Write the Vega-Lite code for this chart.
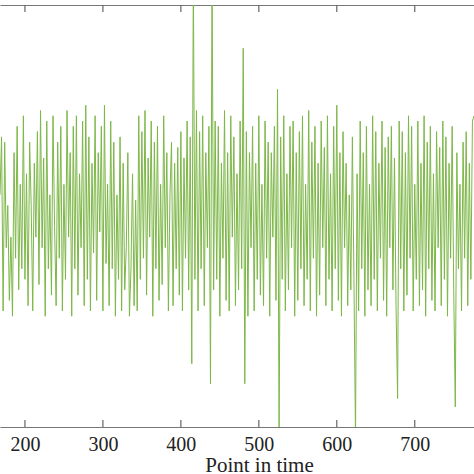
{
  "$schema": "https://vega.github.io/schema/vega-lite/v6.json",
  "width": 474,
  "height": 422,
  "padding": {"top": 4, "left": 0, "right": 0, "bottom": 0},
  "background": "white",
  "config": {"view": {"stroke": null}},
  "datasets": {
    "ticks": [{"t":200},{"t":300},{"t":400},{"t":500},{"t":600},{"t":700}],
    "series": [
    {"t":168,"v":0.2},{"t":170,"v":0.75},{"t":172,"v":-0.9},{"t":174,"v":0.7},{"t":176,"v":-0.3},{"t":178,"v":0.1},{"t":180,"v":-0.8},{"t":182,"v":-0.2},{"t":184,"v":-0.95},{"t":186,"v":0.6},
    {"t":188,"v":-0.4},{"t":190,"v":0.85},{"t":192,"v":-0.7},{"t":194,"v":0.3},{"t":196,"v":-0.5},{"t":198,"v":0.95},{"t":200,"v":-0.6},{"t":202,"v":0.4},{"t":204,"v":-0.85},{"t":206,"v":0.7},
    {"t":208,"v":0.1},{"t":210,"v":-0.9},{"t":212,"v":0.5},{"t":214,"v":-0.2},{"t":216,"v":0.8},{"t":218,"v":-0.65},{"t":220,"v":1.0},{"t":222,"v":-0.3},{"t":224,"v":0.55},{"t":226,"v":-0.95},
    {"t":228,"v":0.9},{"t":230,"v":-0.5},{"t":232,"v":0.2},{"t":234,"v":-0.75},{"t":236,"v":0.95},{"t":238,"v":-0.1},{"t":240,"v":-0.85},{"t":242,"v":0.7},{"t":244,"v":-0.4},{"t":246,"v":0.85},
    {"t":248,"v":-0.9},{"t":250,"v":0.3},{"t":252,"v":-0.6},{"t":254,"v":1.0},{"t":256,"v":-0.2},{"t":258,"v":0.6},{"t":260,"v":-0.95},{"t":262,"v":0.85},{"t":264,"v":-0.5},{"t":266,"v":0.95},
    {"t":268,"v":-0.75},{"t":270,"v":0.4},{"t":272,"v":-0.3},{"t":274,"v":0.9},{"t":276,"v":-0.85},{"t":278,"v":1.05},{"t":280,"v":-0.6},{"t":282,"v":0.75},{"t":284,"v":-0.9},{"t":286,"v":0.5},
    {"t":288,"v":-0.35},{"t":290,"v":0.95},{"t":292,"v":-0.8},{"t":294,"v":0.6},{"t":296,"v":-0.15},{"t":298,"v":0.85},{"t":300,"v":-0.9},{"t":302,"v":1.05},{"t":304,"v":-0.45},{"t":306,"v":0.3},
    {"t":308,"v":-0.85},{"t":310,"v":0.9},{"t":312,"v":-0.5},{"t":314,"v":0.7},{"t":316,"v":-0.95},{"t":318,"v":0.2},{"t":320,"v":-0.6},{"t":322,"v":0.75},{"t":324,"v":-0.9},{"t":326,"v":0.5},
    {"t":328,"v":-0.7},{"t":330,"v":-0.3},{"t":332,"v":0.6},{"t":334,"v":-0.95},{"t":336,"v":-0.5},{"t":338,"v":0.4},{"t":340,"v":-0.85},{"t":342,"v":0.15},{"t":344,"v":-0.9},{"t":346,"v":0.95},
    {"t":348,"v":-0.6},{"t":350,"v":0.8},{"t":352,"v":-0.4},{"t":354,"v":1.0},{"t":356,"v":-0.75},{"t":358,"v":0.55},{"t":360,"v":-0.2},{"t":362,"v":0.9},{"t":364,"v":-0.95},{"t":366,"v":0.7},
    {"t":368,"v":-0.5},{"t":370,"v":0.85},{"t":372,"v":-0.8},{"t":374,"v":0.3},{"t":376,"v":-0.65},{"t":378,"v":0.95},{"t":380,"v":-0.3},{"t":382,"v":0.6},{"t":384,"v":-0.9},{"t":386,"v":0.2},
    {"t":388,"v":0.7},{"t":390,"v":-0.85},{"t":392,"v":0.5},{"t":394,"v":-0.5},{"t":396,"v":0.65},{"t":398,"v":-0.75},{"t":400,"v":0.8},{"t":402,"v":-0.9},{"t":404,"v":0.55},{"t":406,"v":-0.4},
    {"t":408,"v":0.9},{"t":410,"v":-0.7},{"t":412,"v":0.75},{"t":414,"v":-1.4},{"t":416,"v":2.3},{"t":418,"v":-0.6},{"t":420,"v":1.0},{"t":422,"v":-0.9},{"t":424,"v":0.8},{"t":426,"v":-0.5},
    {"t":428,"v":0.95},{"t":430,"v":-0.85},{"t":432,"v":0.6},{"t":434,"v":-0.3},{"t":436,"v":0.85},{"t":438,"v":-1.59},{"t":440,"v":2.3},{"t":442,"v":-0.7},{"t":444,"v":0.9},{"t":446,"v":-0.6},
    {"t":448,"v":0.85},{"t":450,"v":-0.95},{"t":452,"v":0.5},{"t":454,"v":-0.4},{"t":456,"v":1.0},{"t":458,"v":-0.8},{"t":460,"v":0.6},{"t":462,"v":-0.9},{"t":464,"v":0.95},{"t":466,"v":-0.2},
    {"t":468,"v":0.75},{"t":470,"v":-0.85},{"t":472,"v":0.4},{"t":474,"v":-0.7},{"t":476,"v":0.9},{"t":478,"v":-0.5},{"t":480,"v":1.59},{"t":482,"v":-1.59},{"t":484,"v":0.8},{"t":486,"v":-0.95},
    {"t":488,"v":0.6},{"t":490,"v":-0.3},{"t":492,"v":0.85},{"t":494,"v":-0.9},{"t":496,"v":0.5},{"t":498,"v":-0.6},{"t":500,"v":0.95},{"t":502,"v":-0.75},{"t":504,"v":0.3},{"t":506,"v":-0.85},
    {"t":508,"v":0.9},{"t":510,"v":-0.4},{"t":512,"v":0.7},{"t":514,"v":-0.95},{"t":516,"v":0.6},{"t":518,"v":-0.2},{"t":520,"v":0.85},{"t":522,"v":-0.8},{"t":524,"v":1.2},{"t":526,"v":-2.1},
    {"t":528,"v":0.75},{"t":530,"v":-0.6},{"t":532,"v":0.95},{"t":534,"v":-0.9},{"t":536,"v":0.4},{"t":538,"v":-0.7},{"t":540,"v":0.85},{"t":542,"v":-0.3},{"t":544,"v":0.9},{"t":546,"v":-0.95},
    {"t":548,"v":0.6},{"t":550,"v":-0.8},{"t":552,"v":0.8},{"t":554,"v":-0.5},{"t":556,"v":0.95},{"t":558,"v":-0.85},{"t":560,"v":0.3},{"t":562,"v":-0.6},{"t":564,"v":1.0},{"t":566,"v":-0.9},
    {"t":568,"v":0.7},{"t":570,"v":-0.4},{"t":572,"v":0.85},{"t":574,"v":-0.95},{"t":576,"v":0.5},{"t":578,"v":-0.75},{"t":580,"v":0.9},{"t":582,"v":-0.3},{"t":584,"v":0.65},{"t":586,"v":-0.85},
    {"t":588,"v":0.95},{"t":590,"v":-0.6},{"t":592,"v":0.4},{"t":594,"v":-0.9},{"t":596,"v":0.85},{"t":598,"v":-0.5},{"t":600,"v":1.05},{"t":602,"v":-0.8},{"t":604,"v":0.6},{"t":606,"v":-0.95},
    {"t":608,"v":0.8},{"t":610,"v":-0.3},{"t":612,"v":0.5},{"t":614,"v":-0.85},{"t":616,"v":0.2},{"t":618,"v":-0.7},{"t":620,"v":0.75},{"t":622,"v":-0.6},{"t":624,"v":-2.1},{"t":626,"v":0.4},
    {"t":628,"v":-0.9},{"t":630,"v":0.9},{"t":632,"v":-0.5},{"t":634,"v":0.6},{"t":636,"v":-0.95},{"t":638,"v":0.85},{"t":640,"v":-0.7},{"t":642,"v":0.3},{"t":644,"v":-0.85},{"t":646,"v":0.95},
    {"t":648,"v":-0.6},{"t":650,"v":0.8},{"t":652,"v":-0.9},{"t":654,"v":0.5},{"t":656,"v":-0.4},{"t":658,"v":0.9},{"t":660,"v":-0.8},{"t":662,"v":0.65},{"t":664,"v":-0.95},{"t":666,"v":0.75},
    {"t":668,"v":-0.3},{"t":670,"v":0.85},{"t":672,"v":-0.7},{"t":674,"v":0.55},{"t":676,"v":-0.85},{"t":678,"v":-1.73},{"t":680,"v":0.9},{"t":682,"v":-0.5},{"t":684,"v":0.8},{"t":686,"v":-0.9},
    {"t":688,"v":0.6},{"t":690,"v":-0.75},{"t":692,"v":0.95},{"t":694,"v":-0.4},{"t":696,"v":0.85},{"t":698,"v":-0.9},{"t":700,"v":0.3},{"t":702,"v":-0.6},{"t":704,"v":0.9},{"t":706,"v":-0.85},
    {"t":708,"v":0.5},{"t":710,"v":-0.7},{"t":712,"v":0.95},{"t":714,"v":-0.95},{"t":716,"v":0.7},{"t":718,"v":-0.5},{"t":720,"v":0.85},{"t":722,"v":-0.8},{"t":724,"v":0.4},{"t":726,"v":-0.9},
    {"t":728,"v":0.8},{"t":730,"v":-0.3},{"t":732,"v":0.65},{"t":734,"v":-0.85},{"t":736,"v":0.9},{"t":738,"v":-0.6},{"t":740,"v":0.75},{"t":742,"v":-0.95},{"t":744,"v":0.5},{"t":746,"v":-0.4},
    {"t":748,"v":0.85},{"t":750,"v":-0.7},{"t":752,"v":-1.81},{"t":754,"v":0.6},{"t":756,"v":-0.5},{"t":758,"v":0.3},{"t":760,"v":-0.9},{"t":762,"v":0.7},{"t":764,"v":-0.4},{"t":766,"v":0.8},
    {"t":768,"v":-0.85},{"t":770,"v":0.5},{"t":772,"v":-0.6},{"t":774,"v":0.9},{"t":776,"v":0.95}
  ]},
  "layer": [
    {
      "data": {"name": "series"},
      "mark": {"type": "line", "color": "#7db748", "strokeWidth": 1, "clip": true},
      "encoding": {
        "x": {"field": "t", "type": "quantitative",
          "scale": {"domain": [168, 776], "nice": false, "zero": false},
          "axis": {"orient": "bottom", "values": [200, 300, 400, 500, 600, 700], "grid": false, "ticks": false,
            "title": "Point in time", "titleFont": "Liberation Serif", "titleFontSize": 21, "titleFontWeight": "normal", "titleColor": "#222",
            "titleX": 259, "titleY": 44, "titleBaseline": "alphabetic",
            "labelFont": "Liberation Serif", "labelFontSize": 20, "labelColor": "#222", "labelBaseline": "alphabetic", "labelPadding": 23,
            "domainColor": "#777", "domainWidth": 1.2}},
        "y": {"field": "v", "type": "quantitative", "scale": {"domain": [-2, 2], "nice": false, "zero": false}, "axis": null}
      }
    },
    {
      "data": {"name": "series"},
      "mark": {"type": "line", "strokeOpacity": 0, "clip": true},
      "encoding": {
        "x": {"field": "t", "type": "quantitative",
          "axis": {"orient": "top", "values": [200, 300, 400, 500, 600, 700], "grid": false, "labels": false, "title": null, "ticks": false,
            "domainColor": "#777", "domainWidth": 1.2}},
        "y": {"field": "v", "type": "quantitative", "axis": null}
      }
    },
    {
      "data": {"name": "ticks"},
      "mark": {"type": "rule", "color": "#666", "strokeWidth": 1.2},
      "encoding": {
        "x": {"field": "t", "type": "quantitative", "axis": null},
        "y": {"datum": -2, "axis": null},
        "y2": {"datum": -1.934}
      }
    },
    {
      "data": {"name": "ticks"},
      "mark": {"type": "rule", "color": "#666", "strokeWidth": 1.2},
      "encoding": {
        "x": {"field": "t", "type": "quantitative", "axis": null},
        "y": {"datum": 2, "axis": null},
        "y2": {"datum": 1.934}
      }
    }
  ],
  "resolve": {"axis": {"x": "independent"}}
}
